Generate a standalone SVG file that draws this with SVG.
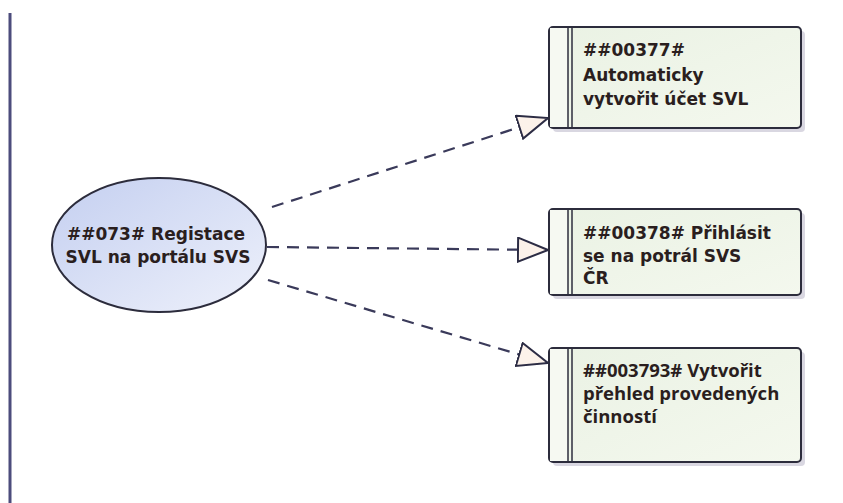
<svg xmlns="http://www.w3.org/2000/svg" width="843" height="503" viewBox="0 0 843 503">
<defs>
<linearGradient id="gEll" x1="0" y1="0" x2="1" y2="1">
<stop offset="0" stop-color="#c4cff0"/>
<stop offset="1" stop-color="#eef1fb"/>
</linearGradient>
<linearGradient id="gBox" x1="0" y1="0" x2="1" y2="1">
<stop offset="0" stop-color="#eaf2e4"/>
<stop offset="1" stop-color="#f4f8ee"/>
</linearGradient>
<marker id="tri" viewBox="0 0 32 26" refX="31" refY="13" markerWidth="32" markerHeight="26" markerUnits="userSpaceOnUse" orient="auto">
<path d="M1,1 L31,13 L1,25 Z" fill="#fcf2ea" stroke="#2c2c44" stroke-width="2" stroke-linejoin="miter"/>
</marker>
</defs>
<style>
.frame{stroke:#4c4c7c;stroke-width:3;fill:none}
.box{fill:url(#gBox);stroke:#2c2c3c;stroke-width:2}
.shadow{fill:#c9c6d4;opacity:0.7}
.strip{fill:#f6f9f2}
.dbl{stroke:#2c2c3c;stroke-width:1.5}
.ell{fill:url(#gEll);stroke:#2c2c3c;stroke-width:2}
.conn{stroke:#3a3a5a;stroke-width:2.2;stroke-dasharray:12 8;fill:none}
.t{font-family:"DejaVu Sans","Liberation Sans",sans-serif;font-weight:bold;font-size:17px;fill:#2a1e1e}
.t3{font-family:"Open Sans","Noto Sans","Liberation Sans",sans-serif;font-weight:bold;font-size:18.5px;fill:#2a1e1e}
</style>
<line class="frame" x1="10" y1="13" x2="10" y2="503"/>
<g id="connectors">
<path class="conn" d="M272,207 L548,118" marker-end="url(#tri)"/>
<path class="conn" d="M267,247 L548,250" marker-end="url(#tri)"/>
<path class="conn" d="M268,280 L548,363" marker-end="url(#tri)"/>
</g>
<g id="n073">
<ellipse class="ell" cx="159" cy="245" rx="107" ry="67"/>
<text class="t" text-anchor="middle" x="156" y="240">##073# Registace</text>
<text class="t" text-anchor="middle" x="158" y="263">SVL na portálu SVS</text>
</g>
<g id="n00377">
<rect class="shadow" x="553" y="31" width="252" height="101" rx="4"/>
<rect class="box" x="549" y="27" width="252" height="101" rx="4"/>
<rect class="strip" x="550" y="28" width="18" height="99"/>
<line class="dbl" x1="568" y1="27" x2="568" y2="128"/>
<line class="dbl" x1="572" y1="27" x2="572" y2="128"/>
<text class="t" x="583" y="56">##00377#</text>
<text class="t" x="583" y="81">Automaticky</text>
<text class="t" x="583" y="105">vytvořit účet SVL</text>
</g>
<g id="n00378">
<rect class="shadow" x="553" y="213" width="252" height="86" rx="4"/>
<rect class="box" x="549" y="209" width="252" height="86" rx="4"/>
<rect class="strip" x="550" y="210" width="18" height="84"/>
<line class="dbl" x1="568" y1="209" x2="568" y2="295"/>
<line class="dbl" x1="572" y1="209" x2="572" y2="295"/>
<text class="t" x="583" y="239">##00378# Přihlásit</text>
<text class="t" x="583" y="262">se na potrál SVS</text>
<text class="t" x="583" y="284">ČR</text>
</g>
<g id="n003793">
<rect class="shadow" x="553" y="352" width="252" height="114" rx="4"/>
<rect class="box" x="549" y="348" width="252" height="114" rx="4"/>
<rect class="strip" x="550" y="349" width="18" height="112"/>
<line class="dbl" x1="568" y1="348" x2="568" y2="462"/>
<line class="dbl" x1="572" y1="348" x2="572" y2="462"/>
<text class="t3" x="583" y="377">##003793# Vytvořit</text>
<text class="t3" x="583" y="400">přehled provedených</text>
<text class="t3" x="583" y="423">činností</text>
</g>
</svg>
